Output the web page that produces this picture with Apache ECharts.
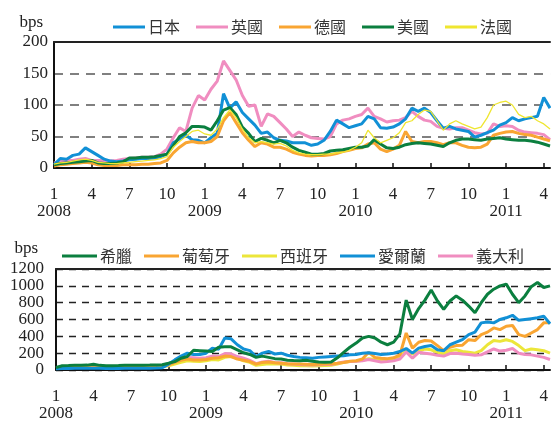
<!DOCTYPE html>
<html>
<head>
<meta charset="utf-8">
<script src="https://cdn.jsdelivr.net/npm/echarts@6/dist/echarts.min.js"></script>
<style>
  html, body { margin: 0; padding: 0; background: #fff; }
  #chart { width: 551px; height: 422px; }
</style>
</head>
<body>
<div id="chart"></div>
<script>
// half-month categories, Jan 2008 .. Apr 2011
const dates = [];
for (let y = 2008; y <= 2011; y++) {
  for (let m = 1; m <= 12; m++) {
    if (y === 2011 && m > 4) break;
    dates.push(y + "-" + m + "-a", y + "-" + m + "-b");
  }
}

// top panel (bps)
const japan = [5, 15, 14, 20, 22, 32, 26, 20, 14, 11, 10, 11, 13, 14, 15, 15, 16, 18, 22, 40,
  46, 52, 45, 44, 40, 48, 55, 118, 95, 105, 88, 78, 68, 55, 57, 48, 44, 43, 40, 40,
  40, 36, 38, 44, 58, 76, 70, 64, 67, 70, 82, 78, 64, 63, 65, 70, 78, 95, 90, 95,
  88, 75, 63, 66, 62, 60, 58, 49, 52, 56, 60, 68, 72, 80, 75, 78, 80, 82, 112, 95];
const uk = [8, 10, 12, 12, 14, 15, 12, 12, 12, 11, 12, 14, 15, 16, 17, 17, 18, 22, 30, 48,
  64, 58, 95, 115, 108, 125, 138, 170, 155, 140, 115, 98, 100, 66, 86, 82, 72, 62, 50, 57,
  52, 48, 47, 46, 50, 70, 76, 78, 82, 85, 95, 82, 78, 73, 75, 76, 80, 90, 82, 76,
  74, 66, 63, 62, 64, 64, 60, 56, 54, 55, 70, 66, 67, 66, 60, 57, 56, 55, 53, 45];
const germany = [3, 5, 6, 7, 8, 9, 8, 5, 4, 4, 4, 5, 5, 5, 6, 6, 7, 8, 12, 24,
  33, 40, 42, 40, 40, 42, 50, 75, 88, 72, 56, 44, 34, 40, 38, 33, 33, 30, 25, 22,
  20, 19, 20, 20, 21, 23, 26, 28, 31, 32, 38, 40, 30, 26, 30, 36, 58, 42, 40, 42,
  42, 40, 37, 40, 40, 36, 33, 32, 33, 38, 52, 55, 57, 58, 55, 53, 52, 49, 46, 43];
const usa = [5, 7, 8, 9, 10, 11, 12, 8, 7, 7, 8, 10, 16, 16, 17, 17, 18, 20, 22, 35,
  50, 56, 66, 66, 65, 60, 75, 92, 96, 85, 65, 55, 42, 47, 44, 40, 44, 40, 33, 28,
  25, 22, 22, 23, 27, 28, 29, 31, 33, 33, 35, 45, 38, 32, 31, 33, 37, 39, 40, 39,
  38, 36, 34, 40, 44, 46, 46, 45, 44, 46, 47, 48, 46, 45, 44, 44, 43, 41, 38, 35];
const france = [6, 8, 9, 11, 13, 14, 12, 9, 8, 7, 7, 8, 9, 10, 11, 12, 13, 15, 18, 33,
  42, 50, 58, 60, 54, 52, 62, 80, 92, 80, 62, 48, 40, 42, 40, 38, 39, 35, 28, 24,
  22, 21, 21, 22, 22, 24, 25, 28, 33, 40, 60, 48, 40, 44, 48, 56, 72, 75, 85, 92,
  90, 75, 60, 70, 75, 70, 66, 62, 65, 80, 100, 104, 106, 100, 85, 80, 82, 75, 70, 62];

// bottom panel (bps)
const greece = [30, 50, 52, 55, 55, 58, 68, 55, 50, 50, 52, 55, 55, 56, 57, 58, 60, 62, 80, 100,
  140, 160, 235, 230, 225, 220, 270, 275, 275, 240, 205, 185, 150, 165, 150, 135, 130, 115, 112, 110,
  115, 105, 95, 92, 95, 145, 210, 270, 320, 380, 400, 380, 330, 300, 330, 430, 830, 600, 730, 830,
  950, 820, 720, 820, 880, 830, 760, 680, 800, 900, 960, 1000, 1020, 900, 800, 880, 990, 1040, 980, 1000];
const portugal = [25, 30, 32, 35, 38, 40, 42, 38, 35, 35, 36, 38, 38, 38, 40, 40, 42, 45, 60, 90,
  115, 130, 120, 120, 125, 140, 145, 165, 160, 130, 115, 100, 70, 90, 95, 85, 80, 75, 72, 70,
  68, 66, 68, 70, 72, 80, 90, 105, 110, 130, 210, 150, 140, 135, 145, 180, 440, 260, 330, 350,
  345, 290, 230, 270, 290, 295, 360, 350, 420, 450, 500, 480, 520, 530, 420, 400, 440, 480, 560, 560];
const spain = [20, 25, 28, 30, 32, 35, 38, 32, 30, 30, 30, 32, 32, 33, 34, 35, 36, 38, 50, 70,
  90, 110, 105, 100, 110, 125, 120, 150, 160, 140, 110, 90, 55, 65, 75, 70, 70, 60, 55, 50,
  50, 48, 50, 52, 55, 70, 90, 100, 105, 115, 135, 125, 120, 125, 140, 160, 230, 190, 220, 250,
  240, 210, 190, 230, 240, 220, 210, 200, 230, 300, 350, 340, 360, 340, 290, 230, 250, 240, 230, 200];
const ireland = [15, 18, 18, 20, 22, 22, 22, 20, 18, 18, 18, 20, 20, 20, 20, 22, 24, 28, 70, 120,
  165, 200, 185, 185, 200, 260, 245, 380, 370, 300, 250, 230, 160, 200, 220, 190, 200, 175, 160, 150,
  145, 140, 150, 155, 160, 165, 170, 180, 185, 200, 205, 195, 185, 190, 200, 220, 255, 200, 260, 280,
  290, 240, 230, 300, 330, 360, 420, 450, 560, 570, 560, 600, 620, 650, 590, 600, 610, 620, 640, 550];
const italy = [28, 32, 33, 35, 36, 38, 40, 36, 34, 34, 34, 36, 36, 37, 38, 38, 40, 42, 60, 95,
  120, 150, 145, 140, 145, 165, 160, 195, 190, 160, 140, 115, 75, 95, 105, 90, 85, 75, 70, 65,
  62, 60, 62, 64, 66, 80, 95, 100, 105, 110, 125, 110, 95, 100, 110, 130, 215, 140, 210, 200,
  190, 175, 165, 195, 200, 190, 185, 175, 180, 215, 250, 225, 235, 255, 200, 185, 180, 165, 150, 125];

const topTicks = { min: 0, max: 200, interval: 50 };
const bottomTicks = { min: 0, max: 1200, interval: 200 };

const BLUE = "#1190d6", PINK = "#f08dc0", ORANGE = "#f9a532", GREEN = "#0b7f3f", YELLOW = "#ece63a";
const SERIF = "Liberation Serif";
const CJK = "Noto Sans CJK TC";

function xAxes(gridIndex) {
  return [
    {
      type: "category",
      gridIndex,
      data: dates,
      boundaryGap: false,
      axisLine: { lineStyle: { color: "#111", width: 2 } },
      axisTick: { inside: true, length: 5, interval: 5, lineStyle: { color: "#111", width: 1.5 } },
      axisLabel: {
        interval: 5,
        margin: 18,
        fontFamily: SERIF,
        fontSize: 17,
        color: "#222",
        lineHeight: 17,
        formatter: (v) => {
          const p = v.split("-");
          return p[1] === "1" ? "1\n" + p[0] : p[1];
        },
      },
      splitLine: { show: false },
    },
    {
      type: "category",
      gridIndex,
      data: dates,
      boundaryGap: false,
      position: "top",
      axisLine: { lineStyle: { color: "#222", width: 2 } },
      axisTick: { show: false },
      axisLabel: { show: false },
    },
  ];
}

function yAxis(gridIndex, ticks, margin, split, nameGap, namePad) {
  return {
    type: "value",
    gridIndex,
    min: ticks.min,
    max: ticks.max,
    interval: ticks.interval,
    name: "bps",
    nameLocation: "end",
    nameGap,
    nameTextStyle: {
      fontFamily: SERIF,
      fontSize: 17,
      color: "#222",
      align: "right",
      verticalAlign: "bottom",
      padding: [0, namePad, 0, 0],
    },
    axisLine: { show: true, lineStyle: { color: "#111", width: 2 } },
    axisTick: { show: false },
    axisLabel: { margin, fontFamily: SERIF, fontSize: 17, color: "#222", formatter: (v) => String(v) },
    splitLine: { show: true, lineStyle: split },
  };
}

function line(name, data, color, width, xi, yi, z) {
  return {
    name,
    type: "line",
    data,
    xAxisIndex: xi,
    yAxisIndex: yi,
    symbol: "none",
    z,
    lineStyle: { color, width },
    itemStyle: { color },
  };
}

const chart = echarts.init(document.getElementById("chart"), null, { renderer: "canvas" });
chart.setOption({
  animation: false,
  backgroundColor: "#fff",
  grid: [
    { left: 54, top: 42, right: -4, height: 126 },
    { left: 56, top: 269, right: -4, height: 108 },
  ],
  legend: [
    {
      left: 113,
      top: 19,
      padding: 0,
      icon: "rect",
      itemWidth: 32,
      itemHeight: 3,
      itemGap: 16,
      textStyle: { fontFamily: CJK, fontSize: 16, color: "#333", padding: [0, 0, 0, -2] },
      data: ["日本", "英國", "德國", "美國", "法國"],
    },
    {
      left: 62,
      top: 248,
      padding: 0,
      icon: "rect",
      itemWidth: 35,
      itemHeight: 3,
      itemGap: 12,
      textStyle: { fontFamily: CJK, fontSize: 16, color: "#333", padding: [0, 0, 0, -2] },
      data: ["希臘", "葡萄牙", "西班牙", "愛爾蘭", "義大利"],
    },
  ],
  xAxis: [...xAxes(0), ...xAxes(1)],
  yAxis: [
    yAxis(0, topTicks, 6, { color: "#808080", width: 2, type: [9, 7] }, 11, 11),
    yAxis(1, bottomTicks, 12, { color: "#222", width: 1.3, type: [7, 6] }, 12, 18),
  ],
  series: [
    line("英國", uk, PINK, 3, 0, 0, 2),
    line("日本", japan, BLUE, 3, 0, 0, 3),
    line("德國", germany, ORANGE, 3, 0, 0, 4),
    line("美國", usa, GREEN, 3, 0, 0, 5),
    line("法國", france, "#efe630", 1.3, 0, 0, 6),
    line("西班牙", spain, YELLOW, 3, 2, 1, 2),
    line("義大利", italy, PINK, 3, 2, 1, 3),
    line("葡萄牙", portugal, ORANGE, 3, 2, 1, 4),
    line("愛爾蘭", ireland, BLUE, 3, 2, 1, 5),
    line("希臘", greece, GREEN, 3, 2, 1, 6),
  ],
});
</script>
</body>
</html>
